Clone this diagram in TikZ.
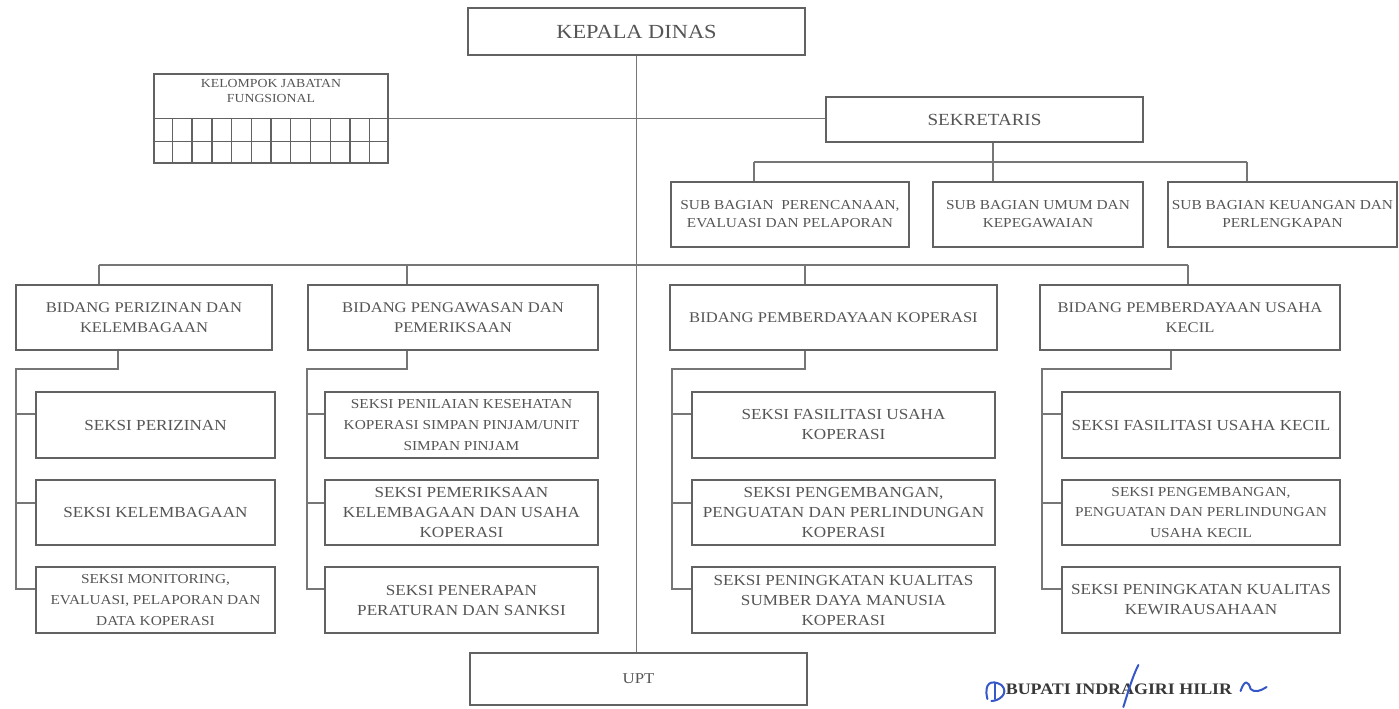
\documentclass[tikz,border=0pt]{standalone}
\usepackage{fontspec}
\setmainfont[FakeStretch=1.12]{Liberation Serif}
\usetikzlibrary{calc}
\definecolor{bd}{HTML}{626262}
\definecolor{tx}{HTML}{555555}
\definecolor{ln}{HTML}{767676}
\definecolor{sig}{HTML}{3557C8}
\begin{document}
\begin{tikzpicture}[x=0.5pt,y=-0.5pt,
  box/.style={draw=bd, line width=1.4pt, fill=white, inner sep=0pt, align=center, text=tx},
  wh/.style 2 args={minimum width=#1*0.5pt, minimum height=#2*0.5pt},
  fs/.style 2 args={font=\fontsize{#1}{#2}\selectfont},
  conn/.style={draw=ln, line width=0.75pt},
  gridline/.style={draw=bd, line width=0.7pt},
  big/.style={fs={7.65}{10}},
  small/.style={fs={6.85}{10.3}},
  bid/.style={fs={7.4}{10}},
  subb/.style={fs={6.85}{9}},
  sigline/.style={draw=sig, line width=1pt, line cap=round, line join=round},
]
\useasboundingbox (0,0) rectangle (1399,708);
\fill[white] (0,0) rectangle (1399,708);

% ---------- coordinates of connector corners ----------
\coordinate (d1) at (754,162);
\coordinate (d2) at (993,162);
\coordinate (d3) at (1247,162);
\coordinate (e1) at (99,265);
\coordinate (e2) at (407,265);
\coordinate (e3) at (805,265);
\coordinate (e4) at (1188,265);
\coordinate (k1) at (118,369);
\coordinate (k2) at (407,369);
\coordinate (k3) at (805,369);
\coordinate (k4) at (1171,369);
\coordinate (v1) at (16,369);
\coordinate (v2) at (307,369);
\coordinate (v3) at (672,369);
\coordinate (v4) at (1042,369);

% ---------- boxes ----------
\node[box, wh={337}{47}, fs={10}{12}] (kep) at (636.5,31.5) {KEPALA DINAS};
\node[box, wh={337}{52}, fs={7.5}{9}] (upt) at (638.5,679) {UPT};

\node[box, wh={234}{89}] (fung) at (271,118.5) {};
\node[text=tx, fs={6.15}{7.5}, align=center, inner sep=0pt] (fungt) at (271,91) {KELOMPOK JABATAN\\FUNGSIONAL};

\node[box, wh={317}{45}, fs={8.5}{10}] (sek) at (984.5,119.5) {SEKRETARIS};

\node[box, wh={238}{65}, subb] (sub1) at (790,214.5) {SUB BAGIAN\ \ PERENCANAAN,\\EVALUASI DAN PELAPORAN};
\node[box, wh={210}{65}, subb] (sub2) at (1038,214.5) {SUB BAGIAN UMUM DAN\\KEPEGAWAIAN};
\node[box, wh={229}{65}, subb] (sub3) at (1282.5,214.5) {SUB BAGIAN KEUANGAN DAN\\PERLENGKAPAN};

\node[box, wh={256}{65}, bid] (b1) at (144,317.5) {BIDANG PERIZINAN DAN\\KELEMBAGAAN};
\node[box, wh={290}{65}, bid] (b2) at (453,317.5) {BIDANG PENGAWASAN DAN\\PEMERIKSAAN};
\node[box, wh={327}{65}, bid] (b3) at (833.5,317.5) {BIDANG PEMBERDAYAAN KOPERASI};
\node[box, wh={300}{65}, bid] (b4) at (1190,317.5) {BIDANG PEMBERDAYAAN USAHA\\KECIL};

\node[box, wh={239}{66}, big] (s11) at (155.5,425) {SEKSI PERIZINAN};
\node[box, wh={239}{65}, big] (s12) at (155.5,512.5) {SEKSI KELEMBAGAAN};
\node[box, wh={239}{66}, small] (s13) at (155.5,600) {SEKSI MONITORING,\\EVALUASI, PELAPORAN DAN\\DATA KOPERASI};

\node[box, wh={273}{66}, small] (s21) at (461.5,425) {SEKSI PENILAIAN KESEHATAN\\KOPERASI SIMPAN PINJAM/UNIT\\SIMPAN PINJAM};
\node[box, wh={273}{65}, big] (s22) at (461.5,512.5) {SEKSI PEMERIKSAAN\\KELEMBAGAAN DAN USAHA\\KOPERASI};
\node[box, wh={273}{66}, big] (s23) at (461.5,600) {SEKSI PENERAPAN\\PERATURAN DAN SANKSI};

\node[box, wh={303}{66}, big] (s31) at (843.5,425) {SEKSI FASILITASI USAHA\\KOPERASI};
\node[box, wh={303}{65}, big] (s32) at (843.5,512.5) {SEKSI PENGEMBANGAN,\\PENGUATAN DAN PERLINDUNGAN\\KOPERASI};
\node[box, wh={303}{66}, big] (s33) at (843.5,600) {SEKSI PENINGKATAN KUALITAS\\SUMBER DAYA MANUSIA\\KOPERASI};

\node[box, wh={278}{66}, big] (s41) at (1201,425) {SEKSI FASILITASI USAHA KECIL};
\node[box, wh={278}{65}, small] (s42) at (1201,512.5) {SEKSI PENGEMBANGAN,\\PENGUATAN DAN PERLINDUNGAN\\USAHA KECIL};
\node[box, wh={278}{66}, big] (s43) at (1201,600) {SEKSI PENINGKATAN KUALITAS\\KEWIRAUSAHAAN};

% grid of the functional group box
\draw[gridline] (fung.west) -- (fung.east);
\draw[gridline] ($(fung.south west)!0.5!(fung.west)$) -- ($(fung.south east)!0.5!(fung.east)$);
\foreach \k in {1,...,11}
  \draw[gridline] ($(fung.west)!\k/12!(fung.east)$) -- ($(fung.south west)!\k/12!(fung.south east)$);

% ---------- connectors ----------
\draw[conn] (kep.south) -- (kep.south |- upt.north);
\draw[conn] (fung.east) -- (fung.east -| sek.west);
% secretariat
\draw[conn] (sek.south -| d2) -- (d2);
\draw[conn] (d1) -- (d3);
\draw[conn] (d1) -- (d1 |- sub1.north);
\draw[conn] (d2) -- (d2 |- sub2.north);
\draw[conn] (d3) -- (d3 |- sub3.north);
% bidang bus
\draw[conn] (e1) -- (e4);
\draw[conn] (e1) -- (e1 |- b1.north);
\draw[conn] (e2) -- (e2 |- b2.north);
\draw[conn] (e3) -- (e3 |- b3.north);
\draw[conn] (e4) -- (e4 |- b4.north);

% columns of seksi
\foreach \c in {1,2,3,4}{
  \coordinate (br\c1) at ([yshift=5.5pt]s\c1.west);
  \coordinate (br\c2) at ([yshift=4.75pt]s\c2.west);
  \coordinate (br\c3) at ([yshift=5.5pt]s\c3.west);
  \draw[conn] (b\c.south -| k\c) |- (v\c) |- (br\c3);
  \draw[conn] (v\c |- br\c1) -- (br\c1);
  \draw[conn] (v\c |- br\c2) -- (br\c2);
}

% ---------- signature ----------
\node[inner sep=0pt, text=black!78, font=\bfseries\fontsize{8}{9}\selectfont] (bup) at (1119,689) {BUPATI INDRAGIRI HILIR};
\draw[sigline] ($(bup.west)+(-18,10)$) .. controls ($(bup.west)+(-22,-6)$) and ($(bup.west)+(-14,-10)$) .. ($(bup.west)+(-4,-4)$)
  .. controls ($(bup.west)+(4,4)$) and ($(bup.west)+(-6,12)$) .. ($(bup.west)+(-14,12)$);
\draw[sigline] ($(bup.west)+(-10,10)$) -- ($(bup.west)+(-10,-6)$);
\draw[sigline] ($(bup.west)!0.55!(bup.east)+(-7,18)$) .. controls ($(bup.west)!0.55!(bup.east)+(-2,2)$) and ($(bup.west)!0.55!(bup.east)+(2,-12)$) .. ($(bup.west)!0.55!(bup.east)+(8,-24)$);
\draw[sigline] ($(bup.east)+(8,2)$) .. controls ($(bup.east)+(12,-10)$) and ($(bup.east)+(16,-8)$) .. ($(bup.east)+(18,0)$)
  .. controls ($(bup.east)+(22,4)$) and ($(bup.east)+(28,2)$) .. ($(bup.east)+(34,-2)$);
\end{tikzpicture}
\end{document}
